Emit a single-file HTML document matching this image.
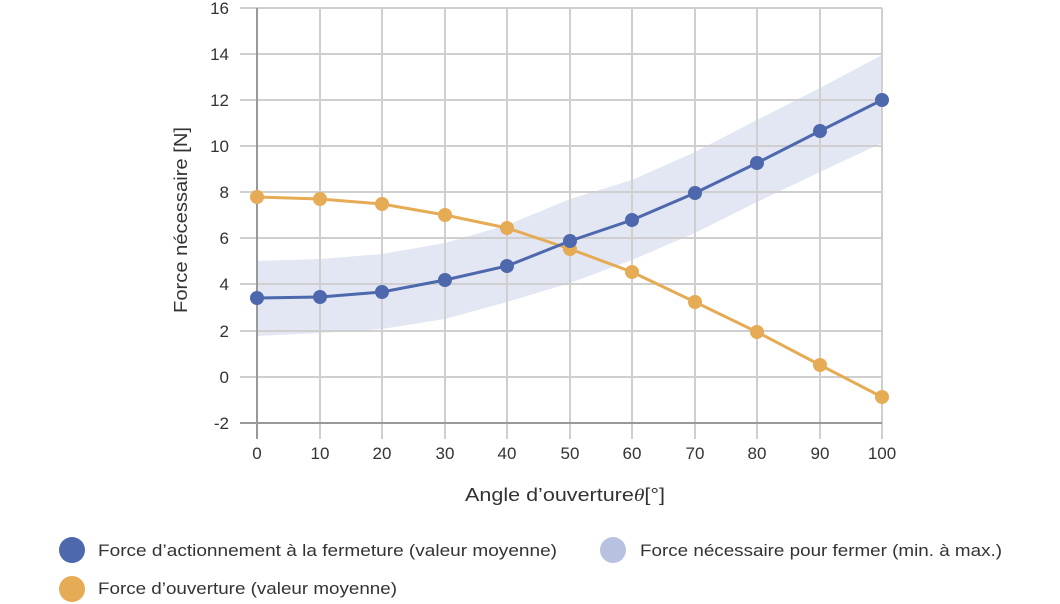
<!DOCTYPE html>
<html><head><meta charset="utf-8"><style>
body{margin:0;background:#fff;}
svg{display:block;font-family:"Liberation Sans",sans-serif;}
</style></head><body>
<svg width="1060" height="604" viewBox="0 0 1060 604" xmlns="http://www.w3.org/2000/svg">
<polygon fill="#e3e7f3" points="257,261 320,259 382,254 445,243 507,225 570,199 632,180 695,152 757,120 820,88 882,55 882,143 820,172 757,202 695,233 632,260 570,283 507,302 445,319 382,329 320,333 257,336"/>
<g stroke="#cfcfcf" stroke-width="2">
<line x1="240" y1="8" x2="882" y2="8"/><line x1="240" y1="54" x2="882" y2="54"/>
<line x1="240" y1="100" x2="882" y2="100"/><line x1="240" y1="146" x2="882" y2="146"/>
<line x1="240" y1="192" x2="882" y2="192"/><line x1="240" y1="238" x2="882" y2="238"/>
<line x1="240" y1="284" x2="882" y2="284"/><line x1="240" y1="331" x2="882" y2="331"/>
<line x1="240" y1="377" x2="882" y2="377"/>
<line x1="320" y1="8" x2="320" y2="439"/><line x1="382" y1="8" x2="382" y2="439"/>
<line x1="445" y1="8" x2="445" y2="439"/><line x1="507" y1="8" x2="507" y2="439"/>
<line x1="570" y1="8" x2="570" y2="439"/><line x1="632" y1="8" x2="632" y2="439"/>
<line x1="695" y1="8" x2="695" y2="439"/><line x1="757" y1="8" x2="757" y2="439"/>
<line x1="820" y1="8" x2="820" y2="439"/><line x1="882" y1="8" x2="882" y2="439"/>
</g>
<g stroke="#999" stroke-width="2">
<line x1="240" y1="423" x2="882" y2="423"/><line x1="257" y1="8" x2="257" y2="439"/>
</g>
<g fill="#333" font-size="17" text-anchor="end">
<text x="229" y="14">16</text><text x="229" y="60">14</text><text x="229" y="106">12</text>
<text x="229" y="152">10</text><text x="229" y="198">8</text><text x="229" y="244">6</text>
<text x="229" y="290">4</text><text x="229" y="337">2</text><text x="229" y="383">0</text>
<text x="229" y="429">-2</text>
</g>
<g fill="#333" font-size="17" text-anchor="middle">
<text x="257" y="459">0</text><text x="320" y="459">10</text><text x="382" y="459">20</text>
<text x="445" y="459">30</text><text x="507" y="459">40</text><text x="570" y="459">50</text>
<text x="632" y="459">60</text><text x="695" y="459">70</text><text x="757" y="459">80</text>
<text x="820" y="459">90</text><text x="882" y="459">100</text>
</g>
<g fill="#333" font-size="18">
<text x="465" y="501" textLength="200" lengthAdjust="spacingAndGlyphs">Angle d’ouverture<tspan font-style="italic" font-family="Liberation Serif">θ</tspan>[°]</text>
<text transform="translate(187,313) rotate(-90)" textLength="186" lengthAdjust="spacingAndGlyphs">Force nécessaire [N]</text>
</g>
<polyline fill="none" stroke="#e5ab55" stroke-width="3" points="257,197 320,199 382,204 445,215 507,228 570,249 632,272 695,302 757,332 820,365 882,397"/>
<g fill="#e5ab55">
<circle cx="257" cy="197" r="7"/><circle cx="320" cy="199" r="7"/><circle cx="382" cy="204" r="7"/><circle cx="445" cy="215" r="7"/><circle cx="507" cy="228" r="7"/><circle cx="570" cy="249" r="7"/><circle cx="632" cy="272" r="7"/><circle cx="695" cy="302" r="7"/><circle cx="757" cy="332" r="7"/><circle cx="820" cy="365" r="7"/><circle cx="882" cy="397" r="7"/>
</g>
<polyline fill="none" stroke="#4e68ad" stroke-width="3" points="257,298 320,297 382,292 445,280 507,266 570,241 632,220 695,193 757,163 820,131 882,100"/>
<g fill="#4e68ad">
<circle cx="257" cy="298" r="7"/><circle cx="320" cy="297" r="7"/><circle cx="382" cy="292" r="7"/><circle cx="445" cy="280" r="7"/><circle cx="507" cy="266" r="7"/><circle cx="570" cy="241" r="7"/><circle cx="632" cy="220" r="7"/><circle cx="695" cy="193" r="7"/><circle cx="757" cy="163" r="7"/><circle cx="820" cy="131" r="7"/><circle cx="882" cy="100" r="7"/>
</g>
<circle cx="72" cy="550" r="13" fill="#4e68ad"/>
<circle cx="72" cy="589" r="13" fill="#e5ab55"/>
<circle cx="613" cy="550" r="13" fill="#b8c2e0"/>
<g fill="#333" font-size="17">
<text x="98" y="556" textLength="459" lengthAdjust="spacingAndGlyphs">Force d’actionnement à la fermeture (valeur moyenne)</text>
<text x="98" y="594" textLength="299" lengthAdjust="spacingAndGlyphs">Force d’ouverture (valeur moyenne)</text>
<text x="640" y="556" textLength="362" lengthAdjust="spacingAndGlyphs">Force nécessaire pour fermer (min. à max.)</text>
</g>
</svg>
</body></html>
